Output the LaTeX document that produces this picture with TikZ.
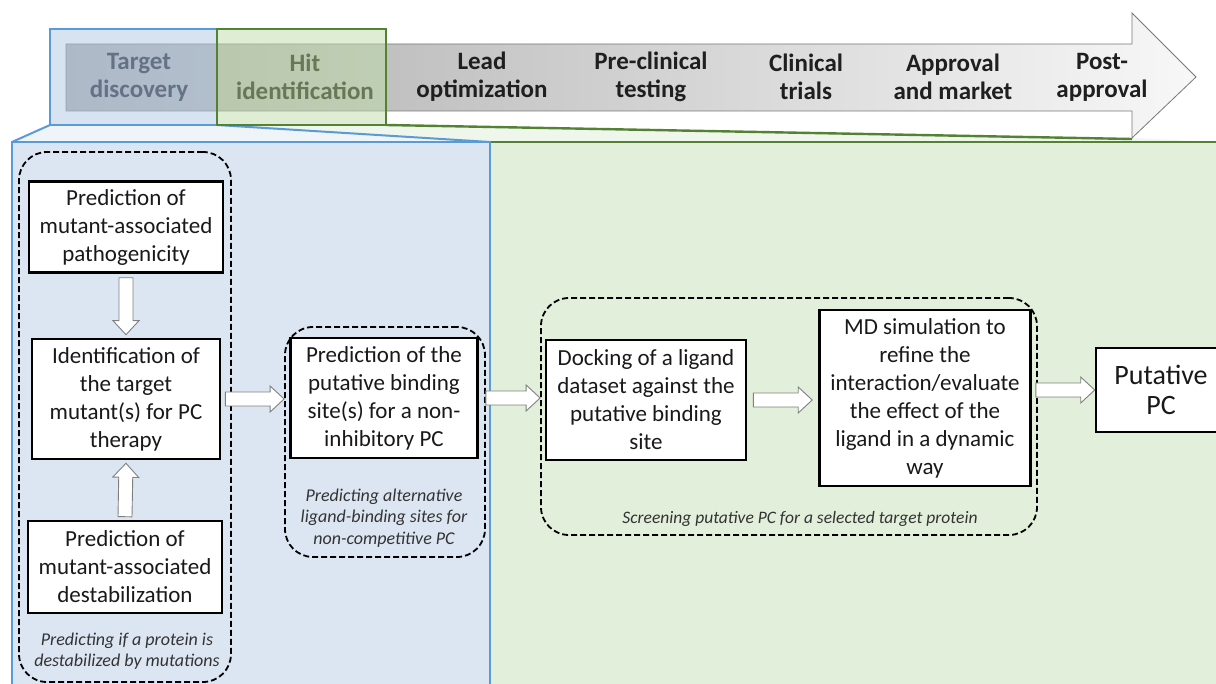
\documentclass[tikz,border=0pt]{standalone}
\usepackage{fontspec}
\setmainfont{Carlito}
\usetikzlibrary{calc}
\definecolor{panelblue}{RGB}{220,230,242}
\definecolor{panelgreen}{RGB}{226,239,218}
\definecolor{edgeblue}{RGB}{91,155,213}
\definecolor{edgegreen}{RGB}{84,130,53}
\definecolor{tabblue}{RGB}{176,200,228}
\definecolor{tabgreen}{RGB}{190,220,168}
\definecolor{arrowgray}{RGB}{128,128,128}
\definecolor{bandgray}{RGB}{120,120,120}
\definecolor{tdtext}{RGB}{100,114,134}
\definecolor{hittext}{RGB}{104,120,86}
\tikzset{
  stepbox/.style={draw=black, line width=2.6pt, fill=white, align=center, inner sep=0pt,
    text=black!90, font=\fontsize{23}{28}\selectfont},
  groupbox/.style={draw=black, line width=1.8pt, dash pattern=on 6pt off 3pt,
    rounded corners=28pt, inner sep=0pt},
  caption/.style={align=center, inner sep=0pt, text=black!80,
    font=\fontsize{18}{21.5}\selectfont\itshape},
  phase/.style={align=center, inner sep=0pt, text=black!88,
    font=\fontsize{25}{28}\selectfont\bfseries},
  fat/.style={draw=arrowgray, fill=white, line width=0.9pt, line join=miter,
    to path={
      ($(\tikztostart)!7pt!90:(\tikztotarget)$)
      -- ($($(\tikztotarget)!14pt!(\tikztostart)$)!7pt!-90:(\tikztostart)$)
      -- ($($(\tikztotarget)!14pt!(\tikztostart)$)!13pt!-90:(\tikztostart)$)
      -- (\tikztotarget)
      -- ($($(\tikztotarget)!14pt!(\tikztostart)$)!13pt!90:(\tikztostart)$)
      -- ($($(\tikztotarget)!14pt!(\tikztostart)$)!7pt!90:(\tikztostart)$)
      -- ($(\tikztostart)!7pt!-90:(\tikztotarget)$)
      -- cycle}}
}
\begin{document}
\begin{tikzpicture}[x=1pt,y=-1pt]
\useasboundingbox (0,0) rectangle (1216,684);
\clip (0,0) rectangle (1216,684);
\fill[white] (0,0) rectangle (1216,684);

% panels
\fill[panelblue] (12,142) rectangle (490,700);
\fill[panelgreen] (490,142) rectangle (1230,700);
\fill[panelblue!45] (50,125) -- (217,125) -- (490,142) -- (12,142) -- cycle;
\fill[panelgreen!55] (217,125) -- (386,125) -- (1132,138) -- (1216,142) -- (490,142) -- cycle;
\draw[edgeblue, line width=2.2pt] (12,700) -- (12,142) -- (490,142) -- (490,700);
\draw[edgeblue, line width=2pt] (50,125) -- (12,142);
\draw[edgeblue, line width=2pt] (217,125) -- (490,142);
\draw[edgegreen, line width=2.2pt] (491,142) -- (1216,142);
\draw[edgegreen, line width=2.4pt] (386,125) -- (1132,139);

% process band arrow
\path[draw=bandgray, line width=0.8pt, left color=black!33, right color=black!3]
  (66,44) -- (1132,44) -- (1132,13) -- (1196,77) -- (1132,138) -- (1132,111) -- (66,111) -- cycle;

% highlighted tabs
\draw[edgeblue, line width=2.2pt, fill=tabblue, fill opacity=0.5] (50,29) rectangle (217,125);
\draw[edgegreen, line width=2.4pt, fill=tabgreen, fill opacity=0.5] (217,29) rectangle (386,125);

% phase labels
\node[phase, text=tdtext] (ph1) at (139,77) {Target\\discovery};
\node[phase, text=hittext] (ph2) at (305,77) {Hit\\identification};
\node[phase] (ph3) at (482,77) {Lead\\optimization};
\node[phase] (ph4) at (651,77) {Pre-clinical\\testing};
\node[phase] (ph5) at (806,77) {Clinical\\trials};
\node[phase] (ph6) at (953,77) {Approval\\and market};
\node[phase] (ph7) at (1102,77) {Post-\\approval};

% dashed groups
\node[groupbox, minimum width=212pt, minimum height=530pt] (d1) at (125,417) {};
\node[groupbox, minimum width=200pt, minimum height=230pt] (d2) at (385,442) {};
\node[groupbox, minimum width=496pt, minimum height=237pt] (d3) at (789,416.5) {};

% steps
\node[stepbox, minimum width=194pt, minimum height=91pt] (b1) at (126,227)
  {Prediction of\\mutant-associated\\pathogenicity};
\node[stepbox, minimum width=188pt, minimum height=120pt] (b2) at (126,399)
  {Identification of\\the target\\mutant(s) for PC\\therapy};
\node[stepbox, minimum width=194pt, minimum height=92pt] (b3) at (125,567)
  {Prediction of\\mutant-associated\\destabilization};
\node[caption] (c1) at (127,651) {Predicting if a protein is\\destabilized by mutations};

\node[stepbox, minimum width=187pt, minimum height=120pt] (m1) at (384,398)
  {Prediction of the\\putative binding\\site(s) for a non-\\inhibitory PC};
\node[caption] (c2) at (384,518) {Predicting alternative\\ligand-binding sites for\\non-competitive PC};

\node[stepbox, minimum width=200pt, minimum height=120pt] (k1) at (646,400)
  {Docking of a ligand\\dataset against the\\putative binding\\site};
\node[stepbox, minimum width=211pt, minimum height=176pt] (k2) at (925,398)
  {MD simulation to\\refine the\\interaction/evaluate\\the effect of the\\ligand in a dynamic\\way};
\node[caption, font=\fontsize{17.5}{20}\selectfont\itshape] (c3) at (800,519)
  {Screening putative PC for a selected target protein};

\node[stepbox, minimum width=130pt, minimum height=84pt, font=\fontsize{28}{30}\selectfont] (p1) at (1161,390)
  {Putative\\PC};

% block arrows
\draw[fat] ($(b1.south)+(0,-4pt)$) to ($(b2.north)+(0,3pt)$);
\draw[fat] ($(b3.north)+(0,3pt)$) to ($(b2.south)+(0,-3pt)$);
\draw[fat] ($(b2.east)+(4pt,0)$) to (b2.east -| d2.west);
\draw[fat] (m1.east -| d2.east) to (m1.east -| d3.west);
\draw[fat] ($(k1.east)+(6pt,0)$) to ($(k1.east -| k2.west)+(-6pt,0)$);
\draw[fat] ($(p1.west -| k2.east)+(4pt,0)$) to (p1.west);
\end{tikzpicture}
\end{document}
